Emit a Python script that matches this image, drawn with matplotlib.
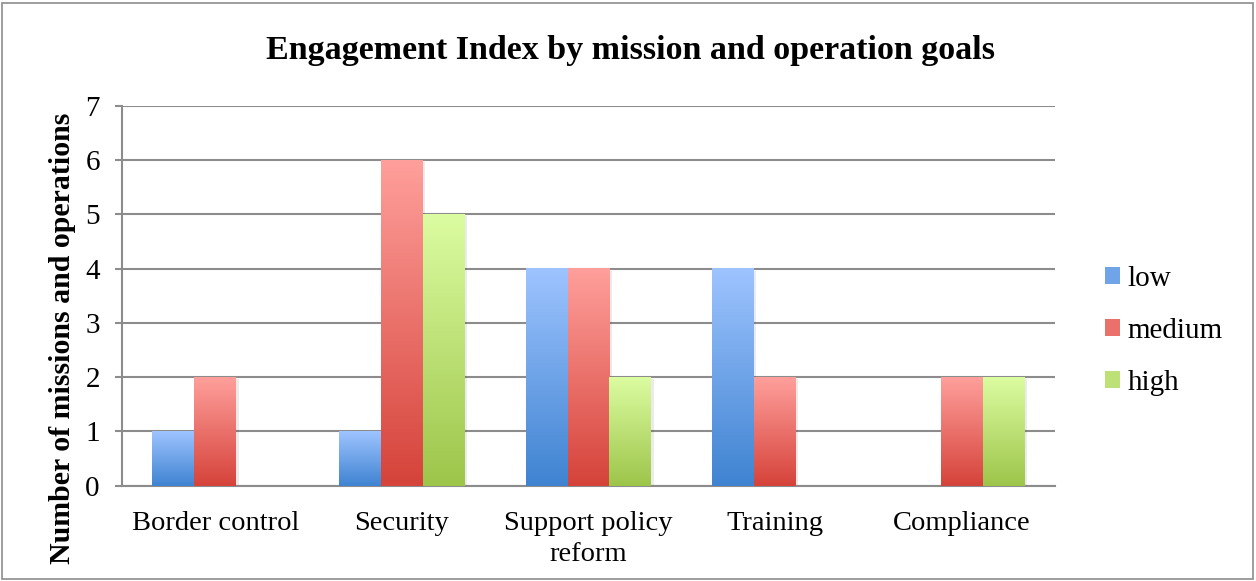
import numpy as np
import matplotlib
matplotlib.use("Agg")
import matplotlib.pyplot as plt
import matplotlib.patches as mpatches
from matplotlib.colors import LinearSegmentedColormap

categories = ["Border control", "Security", "Support policy\nreform", "Training", "Compliance"]
series = ["low", "medium", "high"]
low = [1, 1, 4, 4, 0]
medium = [2, 6, 4, 2, 2]
high = [0, 5, 2, 0, 2]
yticks = [0, 1, 2, 3, 4, 5, 6, 7]

# (bottom, top) gradient colours per series
grads = {
    "low": ("#3f83d1", "#9ec4ff"),
    "medium": ("#d5433a", "#ff9f9b"),
    "high": ("#9dc54a", "#dcfca1"),
}

plt.rcParams["font.family"] = ["Liberation Serif", "DejaVu Serif"]

fig = plt.figure(figsize=(12.56, 5.81), dpi=100)
ax = fig.add_axes([122 / 1256, 95.3 / 581, 933 / 1256, 380 / 581])

# outer chart frame
fig.patches.append(mpatches.Rectangle((2 / 1256, 2 / 581), 1251 / 1256, 576 / 581,
                                      transform=fig.transFigure, fill=False,
                                      edgecolor="#8c8c8c", linewidth=1.2))

x = np.arange(len(categories))
w = 0.225
for k, (name, vals) in enumerate(zip(series, [low, medium, high])):
    cmap = LinearSegmentedColormap.from_list(name, grads[name])
    xs = x + (k - 1) * w
    for xi, v in zip(xs, vals):
        if v <= 0:
            continue
        # soft shadow
        ax.add_patch(mpatches.Rectangle((xi - w / 2 + 0.012, -0.04), w, v, color="#000000",
                                        alpha=0.08, linewidth=0, zorder=2))
        ax.imshow(np.linspace(0, 1, 256).reshape(-1, 1), cmap=cmap, origin="lower",
                  extent=[xi - w / 2, xi + w / 2, 0, v], aspect="auto", zorder=3)

ax.set_xlim(-0.5, len(categories) - 0.5)
ax.set_ylim(0, 7)
ax.set_yticks(yticks)
ax.set_xticks(x)
ax.set_xticklabels(categories, fontsize=20.5, linespacing=1.35)
ax.tick_params(axis="y", labelsize=21, length=5, width=1.5, color="#8c8c8c", pad=11)
ax.tick_params(axis="x", length=0, pad=18)
ax.grid(axis="y", color="#8c8c8c", linewidth=1.5, zorder=1)
ax.set_axisbelow(True)
for s in ["top", "right"]:
    ax.spines[s].set_visible(False)
for s in ["left", "bottom"]:
    ax.spines[s].set_color("#8c8c8c")
    ax.spines[s].set_linewidth(1.5)

fig.text(62 / 1256, 1 - 338 / 581, "Number of missions and operations", rotation=90,
         ha="center", va="center", fontsize=21.5, fontweight="bold")
fig.text(630 / 1256, 1 - 51 / 581, "Engagement Index by mission and operation goals",
         ha="center", va="center", fontsize=24.5, fontweight="bold")

handles = [mpatches.Patch(facecolor=LinearSegmentedColormap.from_list(n, grads[n])(0.5), label=n)
           for n in series]
fig.legend(handles=handles, loc="center left", bbox_to_anchor=(1105 / 1256, 1 - 331 / 581),
           frameon=False, fontsize=21, handlelength=0.52, handleheight=0.52, borderpad=0,
           borderaxespad=0, handletextpad=0.25, labelspacing=0.88)

fig.savefig("out.png", dpi=100)
